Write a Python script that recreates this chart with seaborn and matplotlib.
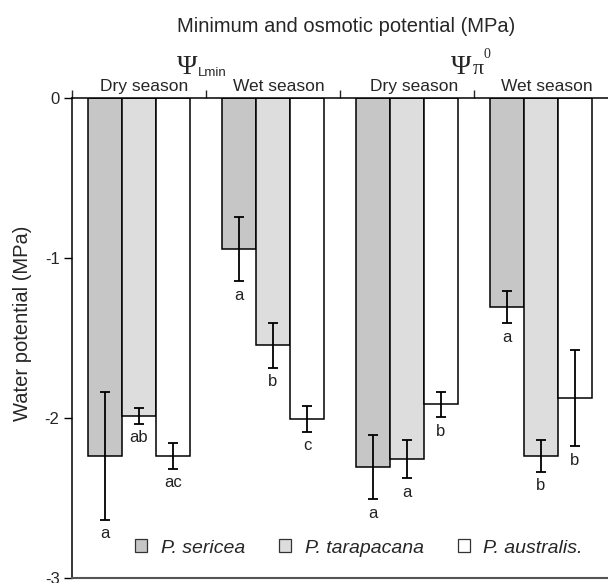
import matplotlib
matplotlib.use("Agg")
import matplotlib.pyplot as plt
from matplotlib.patches import Patch
import seaborn as sns
import pandas as pd

# ---- data ----
conditions = ["Lmin dry", "Lmin wet", "pi dry", "pi wet"]
season_labels = ["Dry season", "Wet season", "Dry season", "Wet season"]
species = ["P. sericea", "P. tarapacana", "P. australis."]

sericea = [-2.236, -0.946, -2.308, -1.306]
sericea_err = [0.40, 0.20, 0.20, 0.10]
tarapacana = [-1.985, -1.546, -2.256, -2.235]
tarapacana_err = [0.05, 0.14, 0.12, 0.10]
australis = [-2.236, -2.006, -1.915, -1.875]
australis_err = [0.08, 0.08, 0.08, 0.30]

sericea_letters = ["a", "a", "a", "a"]
tarapacana_letters = ["ab", "b", "a", "b"]
australis_letters = ["ac", "c", "b", "b"]

yticks = [0, -1, -2, -3]
ytick_labels = ["0", "-1", "-2", "-3"]

colors = ["#c6c6c6", "#dddddd", "#ffffff"]

# ---- build frame ----
values = [sericea, tarapacana, australis]
errs = [sericea_err, tarapacana_err, australis_err]
letters = [sericea_letters, tarapacana_letters, australis_letters]
rows = []
for sp, vals in zip(species, values):
    for c, v in zip(conditions, vals):
        rows.append({"cond": c, "species": sp, "value": v})
df = pd.DataFrame(rows)

sns.set_style("ticks")
plt.rcParams["font.family"] = ["Liberation Sans", "DejaVu Sans"]
plt.rcParams["axes.unicode_minus"] = False

W, H = 608, 583
fig = plt.figure(figsize=(W / 100, H / 100), dpi=100)
ax = fig.add_axes([72 / W, 5 / H, 536 / W, 480 / H])

sns.barplot(data=df, x="cond", y="value", hue="species", order=conditions,
            hue_order=species, palette=colors, saturation=1, width=0.76,
            edgecolor="black", linewidth=1.1, errorbar=None, legend=False, ax=ax)

for cont, err, lets in zip(ax.containers, errs, letters):
    xs = [p.get_x() + p.get_width() / 2 for p in cont.patches]
    hs = [p.get_height() if p.get_height() < 0 else p.get_y() for p in cont.patches]
    ax.errorbar(xs, hs, yerr=err, fmt="none", ecolor="black", elinewidth=1.3,
                capsize=3.6, capthick=1.3, zorder=5)
    for x, h, e, t in zip(xs, hs, err, lets):
        ax.text(x, h - e - 0.088, t, ha="center", va="center", fontsize=12,
                color="#222222")

ax.set_xlim(-0.5, 3.5)
ax.set_ylim(-3, 0)
ax.set_yticks(yticks)
ax.set_yticklabels(ytick_labels)
ax.tick_params(axis="y", direction="out", length=6, width=1, labelsize=12,
               pad=3, color="black")

ax.xaxis.tick_top()
ax.set_xticks([-0.5, 0.5, 1.5, 2.5])
ax.set_xticklabels([])
ax.set_xticks([0.04, 1.04, 2.05, 3.04], minor=True)
ax.set_xticklabels(season_labels, minor=True)
ax.tick_params(axis="x", which="major", direction="out", length=6, width=1,
               top=True, bottom=False, labeltop=False, labelbottom=False)
ax.tick_params(axis="x", which="minor", length=0, pad=3, labelsize=12.5,
               top=True, bottom=False, labeltop=True, labelbottom=False)
ax.set_xlabel("")
ax.set_ylabel("Water potential (MPa)", fontsize=14.5)
ax.yaxis.set_label_coords(-0.074, 0.53)

for s in ["top", "left"]:
    ax.spines[s].set_color("black")
    ax.spines[s].set_linewidth(1.1)
ax.spines["right"].set_visible(False)
ax.spines["bottom"].set_color("#555555")
ax.spines["bottom"].set_linewidth(1.5)

handles = [Patch(facecolor=c, edgecolor="#333333", linewidth=0.9) for c in colors]
ax.legend(handles, species, loc="center", bbox_to_anchor=(0.535, 0.0625),
          ncol=3, frameon=False, prop={"style": "italic", "size": 14},
          handlelength=0.62, handleheight=0.62, handletextpad=0.7,
          columnspacing=1.75, borderaxespad=0)

# title and psi labels (pixel placement)
def fx(px):
    return px / W

def fy(py):
    return 1 - py / H

fig.text(fx(346), fy(27), "Minimum and osmotic potential (MPa)", ha="center",
         va="center", fontsize=14.5)
fig.text(fx(177), fy(74), "\u03a8", ha="left", va="baseline", fontsize=20,
         family="Liberation Serif")
fig.text(fx(198), fy(76), "Lmin", ha="left", va="baseline", fontsize=9.5)
fig.text(fx(451), fy(74), "\u03a8", ha="left", va="baseline", fontsize=20,
         family="Liberation Serif")
fig.text(fx(473), fy(74), "\u03c0", ha="left", va="baseline", fontsize=16,
         family="Liberation Serif")
fig.text(fx(483), fy(58), "0", ha="left", va="baseline", fontsize=10,
         family="Liberation Serif")

fig.savefig("out.png", dpi=100)
